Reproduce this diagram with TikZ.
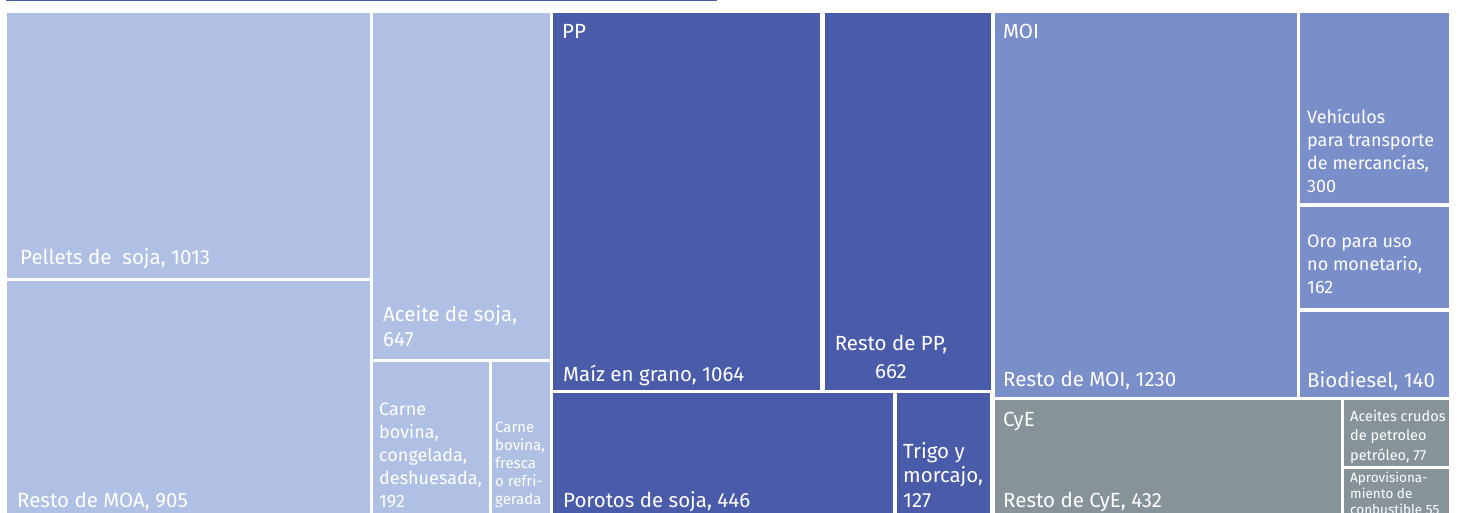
\documentclass[tikz,border=0pt]{standalone}
\usepackage{fontspec}
\setmainfont{Fira Sans}
\definecolor{moacol}{HTML}{AFC0E4}
\definecolor{ppcol}{HTML}{4A5CA9}
\definecolor{moicol}{HTML}{7A8EC9}
\definecolor{cyecol}{HTML}{86949A}
\tikzset{
  lbl/.style={text=white, inner sep=0pt, anchor=base west, align=left, font=\fontsize{20.5}{24.5}\selectfont},
  lblmid/.style={lbl, font=\fontsize{18}{23}\selectfont},
  lblsmall/.style={lbl, font=\fontsize{14.5}{19.5}\selectfont},
  lbltiny/.style={lbl, font=\fontsize{13.5}{16}\selectfont}
}

\begin{document}
\begin{tikzpicture}[x=1pt,y=-1pt]
			%%%%% START %%%%%
			\useasboundingbox (0,0) rectangle (1459,513);
			\clip (0,0) rectangle (1459,513);
			
			\draw[line width=1.5pt, color=ppcol] (6,0.75) -- (717,0.75);
			
			% MOA
			\fill[moacol] (7,13) rectangle (370,278);
			\fill[moacol] (7,281) rectangle (370,525);
			\fill[moacol] (373,13) rectangle (550,359);
			\fill[moacol] (373,362) rectangle (489,525);
			\fill[moacol] (492,362) rectangle (550,525);
			
			% PP
			\fill[ppcol] (553,13) rectangle (820,390);
			\fill[ppcol] (825,13) rectangle (991,390);
			\fill[ppcol] (553,393) rectangle (893,525);
			\fill[ppcol] (897,393) rectangle (990,525);
			
			% MOI
			\fill[moicol] (995,13) rectangle (1297,397);
			\fill[moicol] (1300,13) rectangle (1449,203);
			\fill[moicol] (1300,207) rectangle (1449,308);
			\fill[moicol] (1300,312) rectangle (1449,397);
			
			% CyE
			\fill[cyecol] (995,400) rectangle (1341,525);
			\fill[cyecol] (1344,400) rectangle (1449,466);
			\fill[cyecol] (1344,469) rectangle (1449,525);
			
			% labels
			\node[lbl] (pellets) at (20,265) {Pellets de~ soja, 1013};
			\node[lbl] (restomoa) at (17,507) {Resto de MOA, 905};
			\node[lbl] (aceite) at (383,346) {Aceite de soja,\\647};
			\node[lblmid] (carnecong) at (379,507) {Carne\\bovina,\\congelada,\\deshuesada,\\192};
			\node[lbl, font=\fontsize{15}{18}\selectfont] (carnefresca) at (495,504) {Carne\\bovina,\\fresca\\o refri-\\gerada};
			
			\node[lbl] (pp) at (562,39) {PP};
			\node[lbl] (maiz) at (563,381) {Maíz en grano, 1064};
			\node[lbl, anchor=base, align=center, font=\fontsize{20.5}{28}\selectfont] (restopp) at (891,378) {Resto de PP,\\662};
			\node[lbl] (porotos) at (563,507) {Porotos de soja, 446};
			\node[lbl] (trigo) at (903,507) {Trigo y\\morcajo,\\127};
			
			\node[lbl] (moi) at (1003,39) {MOI};
			\node[lbl] (restomoi) at (1003,386) {Resto de MOI, 1230};
			\node[lblmid] (vehiculos) at (1307,193) {Vehículos\\para transporte\\de mercancías,\\300};
			\node[lblmid] (oro) at (1307,293) {Oro para uso\\no monetario,\\162};
			\node[lbl] (biodiesel) at (1307,387) {Biodiesel, 140};
			
			\node[lbl] (cye) at (1003,426) {CyE};
			\node[lbl] (restocye) at (1003,507) {Resto de CyE, 432};
			\node[lblsmall] (crudos) at (1350,460) {Aceites crudos\\de petroleo\\petróleo, 77};
			\node[lbltiny] (aprov) at (1350,514) {Aprovisiona-\\miento de\\conbustible 55};
			
			%%%%% END %%%%%
\end{tikzpicture}
\end{document}
